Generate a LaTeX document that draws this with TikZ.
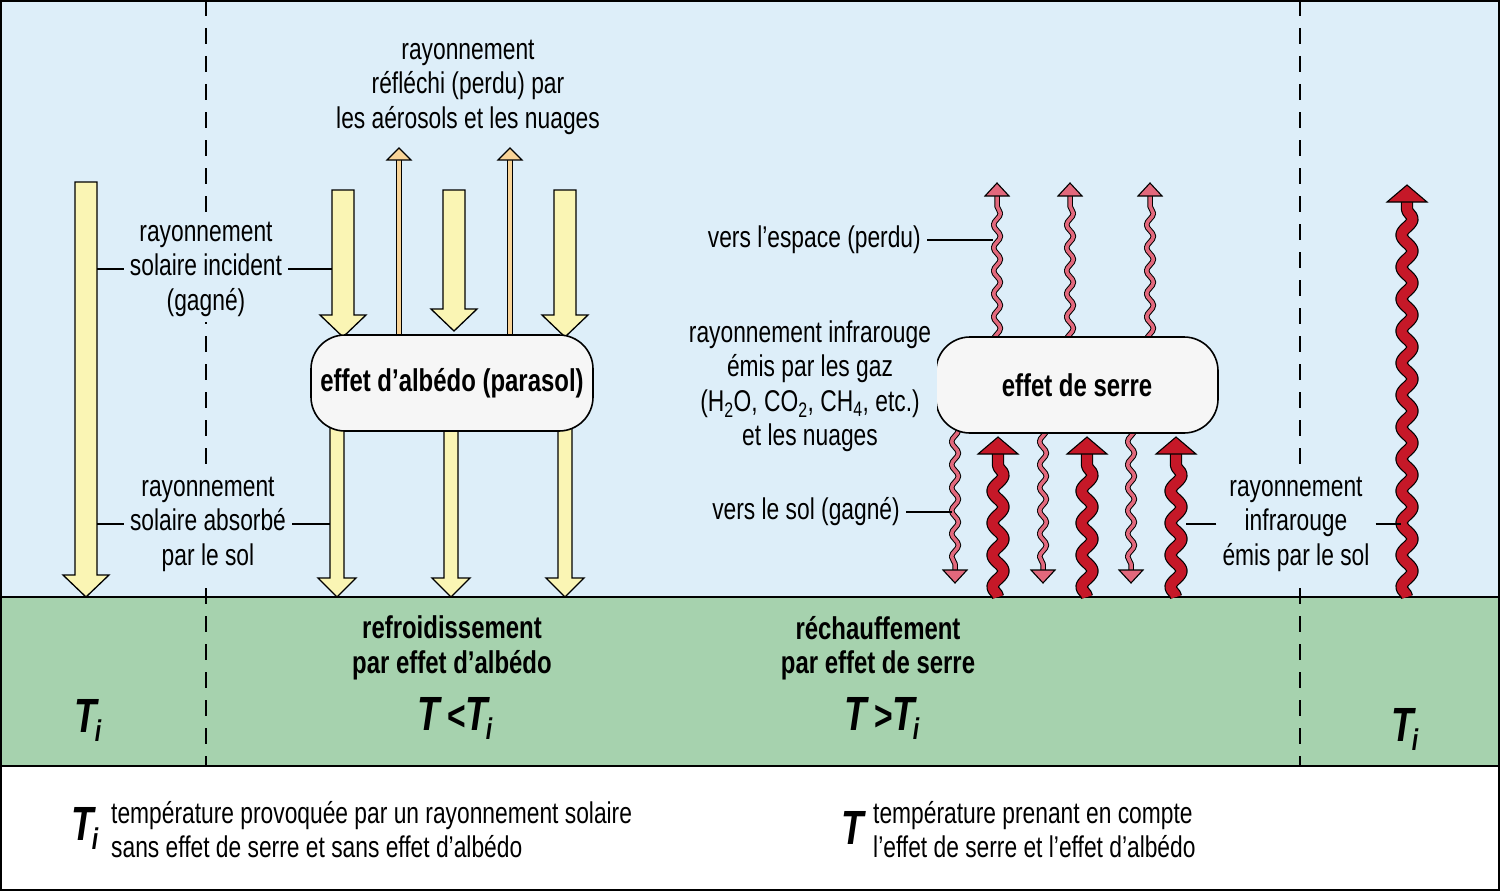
\documentclass[tikz,border=0pt]{standalone}
\usepackage{fontspec}
\setmainfont{Liberation Sans}[FakeStretch=0.76]
\usetikzlibrary{decorations.pathmorphing}

\definecolor{skyblue}{RGB}{221,238,249}
\definecolor{groundgreen}{RGB}{166,210,174}
\definecolor{sunyellow}{RGB}{250,245,180}
\definecolor{reflorange}{RGB}{248,212,152}
\definecolor{irpink}{RGB}{226,104,124}
\definecolor{irred}{RGB}{198,24,40}
\definecolor{cloudwhite}{RGB}{246,246,246}

\tikzset{
  label text/.style={align=center, fill=skyblue, inner sep=6pt,
    font=\fontsize{30}{34.5}\selectfont},
  ground text/.style={align=center, inner sep=2pt,
    font=\fontsize{31.5}{34.5}\selectfont\bfseries},
  legend text/.style={align=left, inner sep=2pt,
    font=\fontsize{30}{34}\selectfont},
  cloudbox/.style={draw, line width=1.6pt, fill=cloudwhite,
    rounded corners=34pt, minimum width=282pt, minimum height=96pt,
    font=\fontsize{31.5}{34}\selectfont\bfseries},
  leader/.style={line width=1.2pt},
  divider/.style={line width=1.3pt, dash pattern=on 16pt off 12pt},
  sunarrow/.style={draw, line width=1.3pt, fill=sunyellow, line join=miter},
  reflup/.style={draw, line width=1pt, double=reflorange, double distance=3.5pt},
  irthin/.style={draw, line width=1pt, double=irpink, double distance=3.5pt,
    line join=round, decorate,
    decoration={snake, amplitude=3.4pt, segment length=23pt}},
  irthick/.style={draw, line width=1.2pt, double=irred, double distance=10pt,
    line join=round, decorate,
    decoration={snake, amplitude=5.5pt, segment length=32pt}}
}

% block arrow: x, top, tip, half shaft, half head, head length
\newcommand{\sunarrow}[6]{%
  \draw[sunarrow] ({#1-#4},#2) -- ({#1+#4},#2) -- ({#1+#4},{#3-#6})
    -- ({#1+#5},{#3-#6}) -- (#1,#3) -- ({#1-#5},{#3-#6})
    -- ({#1-#4},{#3-#6}) -- cycle;}
% arrow head: colour, x, tip, half width, length (negative points down)
\newcommand{\wavehead}[5]{%
  \draw[fill=#1, line width=1.1pt, line join=miter]
    ({#2-#4},{#3+#5}) -- (#2,#3) -- ({#2+#4},{#3+#5}) -- cycle;}

\newcommand{\Tbig}{{\fontsize{48}{48}\selectfont\bfseries\itshape T}}
\newcommand{\Tsub}{{\fontsize{48}{48}\selectfont\bfseries\itshape
  T\kern-2pt\raisebox{-9pt}{\fontsize{30}{30}\selectfont i}}}
\newcommand{\Trel}[1]{{\fontsize{42}{42}\selectfont\bfseries #1}}

\begin{document}
\begin{tikzpicture}[x=1pt, y=-1pt]
\useasboundingbox (0,0) rectangle (1500,891);

% sky, ground, legend
\fill[skyblue] (0,0) rectangle (1500,597);
\fill[groundgreen] (0,597) rectangle (1500,766);
\draw[divider] (206,0) -- (206,766);
\draw[divider] (1300,0) -- (1300,766);
\draw[line width=1.8pt] (0,597) -- (1500,597);
\draw[line width=1.8pt] (0,766) -- (1500,766);
\draw[line width=2pt] (1,1) rectangle (1499,890);

% solar radiation
\sunarrow{86}{182}{597}{11}{23}{22}
\sunarrow{343}{190}{337}{11}{23}{22}
\sunarrow{454}{190}{331}{11}{23}{22}
\sunarrow{565}{190}{337}{11}{23}{22}
\sunarrow{337}{400}{597}{7}{19}{19}
\sunarrow{451}{400}{597}{7}{19}{19}
\sunarrow{565}{400}{597}{7}{19}{19}
\draw[reflup] (399,370) -- (399,160);
\wavehead{reflorange}{399}{148}{12}{12}
\draw[reflup] (510,370) -- (510,160);
\wavehead{reflorange}{510}{148}{12}{12}

% infrared radiation
\draw[irthin] (997,370) -- (997,196);
\wavehead{irpink}{997}{183}{12}{13}
\draw[irthin] (1070,370) -- (1070,196);
\wavehead{irpink}{1070}{183}{12}{13}
\draw[irthin] (1150,370) -- (1150,196);
\wavehead{irpink}{1150}{183}{12}{13}
\draw[irthin] (955,400) -- (955,570);
\wavehead{irpink}{955}{583}{12}{-13}
\draw[irthin] (1043,400) -- (1043,570);
\wavehead{irpink}{1043}{583}{12}{-13}
\draw[irthin] (1131,400) -- (1131,570);
\wavehead{irpink}{1131}{583}{12}{-13}
\draw[irthick] (998,597) -- (998,454);
\wavehead{irred}{998}{437}{20}{17}
\draw[irthick] (1087,597) -- (1087,454);
\wavehead{irred}{1087}{437}{20}{17}
\draw[irthick] (1176,597) -- (1176,454);
\wavehead{irred}{1176}{437}{20}{17}
\draw[irthick] (1407,597) -- (1407,202);
\wavehead{irred}{1407}{185}{20}{17}

% clouds
\node[cloudbox] (alb) at (452,383) {effet d’albédo (parasol)};
\node[cloudbox] (serre) at (1077,385) {effet de serre};

% labels
\coordinate (s0) at (97,0);
\coordinate (a1) at (332,0);
\coordinate (b1) at (330,0);
\coordinate (w1) at (993,0);
\coordinate (w2) at (952,0);
\coordinate (r3) at (1186,0);
\coordinate (r4) at (1401,0);

\node[label text] (inc) at (206,269) {rayonnement\\solaire incident\\(gagné)};
\node[label text] (abs) at (208,524) {rayonnement\\solaire absorbé\\par le sol};
\node[label text] (refl) at (468,87) {rayonnement\\réfléchi (perdu) par\\les aérosols et les nuages};
\node[label text, anchor=east] (esp) at (927,240) {vers l’espace (perdu)};
\node[label text] (gaz) at (810,386) {rayonnement infrarouge\\émis par les gaz\\(H\textsubscript{2}O, CO\textsubscript{2}, CH\textsubscript{4}, etc.)\\et les nuages};
\node[label text, anchor=east] (sol) at (906,512) {vers le sol (gagné)};
\node[label text] (irsol) at (1296,524) {rayonnement\\infrarouge\\émis par le sol};

\draw[leader] (inc.west) -- (inc.west -| s0);
\draw[leader] (inc.east) -- (inc.east -| a1);
\draw[leader] (abs.west) -- (abs.west -| s0);
\draw[leader] (abs.east) -- (abs.east -| b1);
\draw[leader] (esp.east) -- (esp.east -| w1);
\draw[leader] (sol.east) -- (sol.east -| w2);
\draw[leader] (irsol.west) -- (irsol.west -| r3);
\draw[leader] (irsol.east) -- (irsol.east -| r4);

% ground
\node[ground text] (cool) at (452,648) {refroidissement\\par effet d’albédo};
\node[ground text] (warm) at (878,648) {réchauffement\\par effet de serre};
\node (tini) at (88,720) {\Tsub};
\node (tcool) at (455,718) {\Tbig\kern7pt\Trel{<}\Tsub};
\node (twarm) at (882,718) {\Tbig\kern7pt\Trel{>}\Tsub};
\node (tend) at (1405,729) {\Tsub};

% legend
\node (keyti) at (85,828) {\Tsub};
\node[legend text, anchor=west] (keytitext) at (109,830) {température provoquée par un rayonnement solaire\\sans effet de serre et sans effet d’albédo};
\node (keyt) at (853,828) {\Tbig};
\node[legend text, anchor=west] (keyttext) at (871,830) {température prenant en compte\\l’effet de serre et l’effet d’albédo};
\end{tikzpicture}
\end{document}
